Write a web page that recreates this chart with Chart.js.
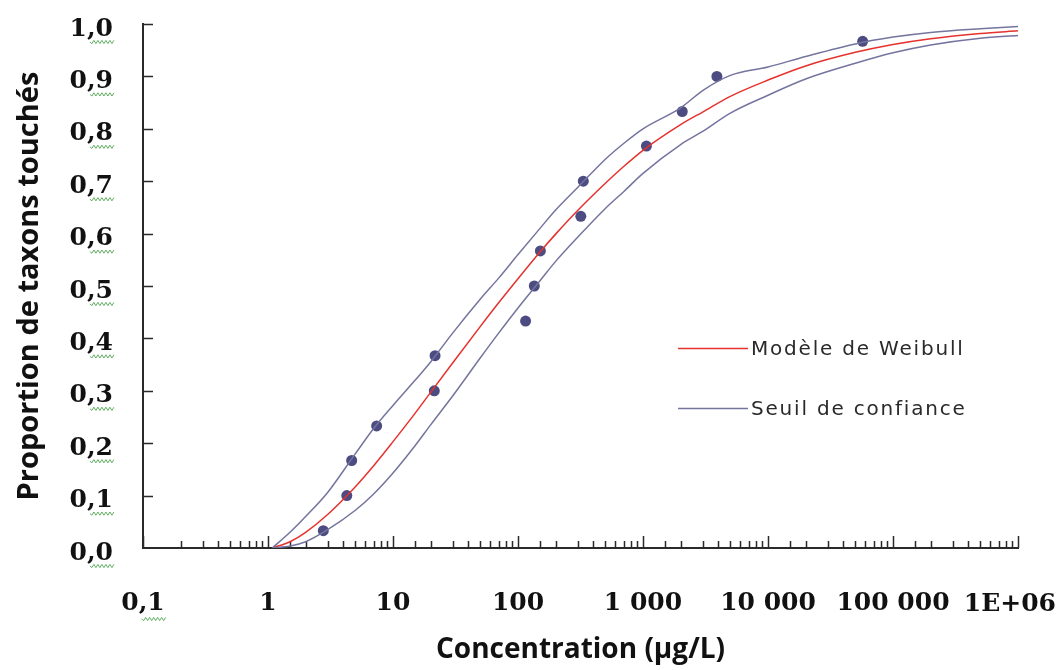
<!DOCTYPE html>
<html><head><meta charset="utf-8">
<script src="https://cdn.jsdelivr.net/npm/chart.js@4.4.1/dist/chart.umd.min.js"></script>
<style>
html,body{margin:0;padding:0;background:#fff;}
#wrap{width:1062px;height:670px;position:relative;}
</style></head><body>
<div id="wrap"><canvas id="c"></canvas></div>
<script>
const xTickLabels = ["0,1","1","10","100","1 000","10 000","100 000","1E+06"];
const yTickLabels = ["0,0","0,1","0,2","0,3","0,4","0,5","0,6","0,7","0,8","0,9","1,0"];

// curves (concentration, proportion)
const curveX   = [1.08, 1.5, 2, 3, 5, 7, 10, 15, 20, 30, 50, 70, 100, 150, 200, 300, 500, 700, 1000, 2000, 3000, 5000, 10000, 20000, 50000, 100000, 200000, 500000, 1000000];
const weibullY = [0, .012, .03, .064, .117, .157, .203, .257, .297, .353, .423, .468, .514, .565, .599, .644, .696, .728, .759, .808, .832, .862, .893, .92, .946, .961, .972, .982, .987];
const upperY   = [0, .03, .06, .106, .18, .228, .272, .32, .355, .41, .475, .515, .56, .61, .645, .688, .742, .772, .8, .84, .873, .902, .918, .938, .962, .975, .984, .991, .995];
const lowerY   = [0, .004, .012, .035, .072, .103, .143, .195, .235, .29, .363, .41, .458, .51, .547, .593, .648, .68, .715, .77, .795, .83, .864, .895, .925, .945, .96, .973, .978];

// observed taxa
const obsX = [2.77, 4.27, 4.67, 7.4, 21.4, 21.7, 115, 135, 151, 318, 333, 1065, 2060, 3900, 57200];
const obsY = [.033, .1, .167, .233, .3, .367, .433, .5, .567, .633, .7, .767, .833, .9, .967];

const RED = "#e5322d", BLUE = "#74749f", DOT = "#4c4c82", INK = "#2a2a2a";
const tickFont = {family:'"DejaVu Serif"', size:25, weight:"bold"};

function pts(xs, ys){ return xs.map((x,i)=>({x, y:ys[i]})); }
function isPow10(v){ const l = Math.log10(v); return Math.abs(l - Math.round(l)) < 1e-9; }
function noPad(s){ s.paddingLeft = s.paddingRight = s.paddingTop = s.paddingBottom = 0; }

const axisTicks = {
  id:"axisTicks",
  beforeDatasetsDraw(chart){
    const {ctx, chartArea:a, scales:{x, y}} = chart;
    ctx.save(); ctx.strokeStyle = INK; ctx.lineWidth = 1.5; ctx.beginPath();
    x.ticks.forEach(t => {
      const px = Math.round(x.getPixelForValue(t.value)) + .5;
      const len = isPow10(t.value) ? 12 : 7;
      ctx.moveTo(px, a.bottom); ctx.lineTo(px, a.bottom - len);
    });
    y.ticks.forEach(t => {
      if(!t.value) return;
      const py = Math.round(y.getPixelForValue(t.value)) + .5;
      ctx.moveTo(a.left, py); ctx.lineTo(a.left + 10, py);
    });
    ctx.stroke(); ctx.restore();
  }
};

// last x label would be cut by the canvas edge: keep it inside, like the original
const lastXLabel = {
  id:"lastXLabel",
  afterDraw(chart){
    const {ctx, chartArea:a, scales:{x}} = chart;
    const lab = xTickLabels[xTickLabels.length - 1];
    ctx.save(); ctx.font = `bold ${tickFont.size}px ${tickFont.family}`;
    ctx.fillStyle = "#111"; ctx.textAlign = "center"; ctx.textBaseline = "alphabetic";
    const w = ctx.measureText(lab).width;
    const cx = Math.min(x.getPixelForValue(x.max), chart.width - w/2 - 6);
    ctx.fillText(lab, cx, a.bottom + 63);
    ctx.restore();
  }
};

function squiggle(ctx, x0, x1, y){
  ctx.beginPath();
  for(let x = x0, k = 0; x <= x1; x += 2, k++) k ? ctx.lineTo(x, y + (k % 2 ? 1.6 : -1.6)) : ctx.moveTo(x, y);
  ctx.stroke();
}

const spellMarks = {
  id:"spellMarks",
  afterDraw(chart){
    const {ctx, chartArea:a, scales:{x, y}} = chart;
    ctx.save(); ctx.font = `bold ${tickFont.size}px ${tickFont.family}`;
    ctx.strokeStyle = "rgba(70,160,70,.85)"; ctx.lineWidth = 1;
    y.ticks.forEach((t,i) => {
      const lab = yTickLabels[i]; if(!lab) return;
      const right = a.left - 30, py = y.getPixelForValue(t.value) + 5;
      const w = ctx.measureText(lab.slice(-2)).width;
      squiggle(ctx, right - w + 3, right + 2, py + 13);
    });
    const lab = xTickLabels[0], px = x.getPixelForValue(0.1);
    const full = ctx.measureText(lab).width, w = ctx.measureText(lab.slice(-2)).width;
    squiggle(ctx, px + full/2 - w + 3, px + full/2 + 2, 619);
    ctx.restore();
  }
};

const insideLegend = {
  id:"insideLegend",
  afterDraw(chart){
    const {ctx, chartArea:a} = chart;
    const items = chart.data.datasets.filter(d => d.legendRow).sort((p,q) => p.legendRow - q.legendRow);
    ctx.save();
    ctx.font = '20px "DejaVu Sans"'; ctx.letterSpacing = "1.8px";
    ctx.textBaseline = "middle"; ctx.fillStyle = INK;
    items.forEach((d,i) => {
      const x0 = a.left + 535, y0 = a.top + 324 + i*60;
      ctx.strokeStyle = d.borderColor; ctx.lineWidth = 1.5;
      ctx.beginPath(); ctx.moveTo(x0, y0 + .5); ctx.lineTo(x0 + 70, y0 + .5); ctx.stroke();
      ctx.fillText(d.label, x0 + 73, y0 + 2);
    });
    ctx.restore();
  }
};

const line = (label, ys, color, legendRow) => ({
  type:"scatter", label, data:pts(curveX, ys), showLine:true, borderColor:color,
  borderWidth:1.5, pointRadius:0, cubicInterpolationMode:"monotone", legendRow
});

new Chart(document.getElementById("c"), {
  type:"scatter",
  data:{datasets:[
    line("Seuil de confiance", upperY, BLUE, 2),
    line("Seuil de confiance", lowerY, BLUE, 0),
    line("Modèle de Weibull", weibullY, RED, 1),
    {label:"Taxons", data:pts(obsX, obsY), pointRadius:5.5, pointHoverRadius:5.5,
     backgroundColor:DOT, borderColor:DOT, borderWidth:0}
  ]},
  options:{
    responsive:true, maintainAspectRatio:false, animation:false, events:[],
    layout:{padding:{left:0, right:44, top:24, bottom:0}},
    plugins:{legend:{display:false}, tooltip:{enabled:false}},
    scales:{
      x:{type:"logarithmic", min:.1, max:1e6,
        grid:{display:false, drawTicks:false},
        border:{display:true, color:INK, width:2},
        ticks:{autoSkip:false, maxRotation:0, padding:40, color:"#111", font:tickFont,
          callback:v => (isPow10(v) && v < 1e6) ? xTickLabels[Math.round(Math.log10(v)) + 1] : ""},
        title:{display:true, text:"Concentration (µg/L)", color:"#111",
          font:{family:'"Open Sans"', size:28, weight:"bold"}, padding:{top:0, bottom:3}},
        afterFit:s => { s.height = 122; noPad(s); }
      },
      y:{min:0, max:1,
        grid:{display:false, drawTicks:false},
        border:{display:true, color:INK, width:2},
        ticks:{stepSize:.1, padding:30, labelOffset:5, color:"#111", font:tickFont,
          callback:(v,i) => yTickLabels[i]},
        title:{display:true, text:"Proportion de taxons touchés", color:"#111",
          font:{family:'"Open Sans"', size:29, weight:"bold"}, padding:{top:12, bottom:0}},
        afterFit:s => { s.width = 143; noPad(s); }
      }
    }
  },
  plugins:[axisTicks, lastXLabel, spellMarks, insideLegend]
});
</script>
</body></html>
